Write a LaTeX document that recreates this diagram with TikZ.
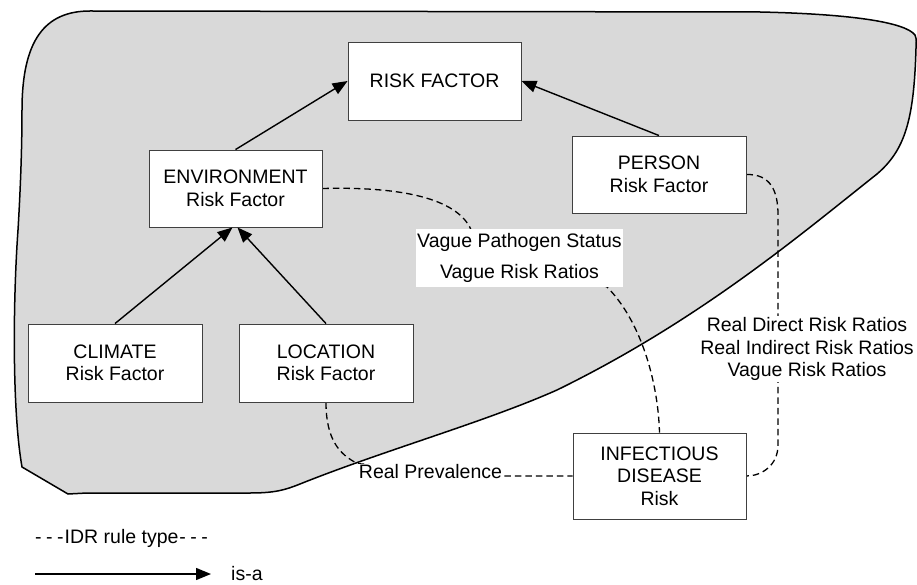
\documentclass[tikz,border=0pt]{standalone}
\usepackage{fontspec}
\setmainfont{Liberation Sans}
\usetikzlibrary{arrows.meta}
\pgfdeclarelayer{shade}
\pgfdeclarelayer{links}
\pgfsetlayers{shade,links,main}
\definecolor{blobgray}{RGB}{217,217,217}
\begin{document}
\begin{tikzpicture}[x=1pt,y=-1pt,
  every node/.style={font=\fontsize{19.5}{22.5}\selectfont},
  box/.style={draw=black!75, line width=0.9pt, fill=white, align=center, inner sep=0pt},
  isa/.style={line width=1.4pt, -{Triangle[length=15pt,width=12pt]}},
  idr/.style={line width=1.3pt, dash pattern=on 6.5pt off 4pt},
  tag/.style={fill=white, align=center, inner sep=1.5pt}]
\useasboundingbox (0,0) rectangle (917,585);

% risk factor hierarchy
\node[box, minimum width=173pt, minimum height=78pt] (rf)  at (434.5,81)  {RISK FACTOR};
\node[box, minimum width=173pt, minimum height=77pt] (env) at (235.5,188.5) {ENVIRONMENT\\Risk Factor};
\node[box, minimum width=174pt, minimum height=77pt] (per) at (659,174.5) {PERSON\\Risk Factor};
\node[box, minimum width=174pt, minimum height=78pt] (cli) at (115,363)   {CLIMATE\\Risk Factor};
\node[box, minimum width=174pt, minimum height=78pt] (loc) at (326,363)   {LOCATION\\Risk Factor};
\node[box, minimum width=173pt, minimum height=86pt] (inf) at (659.5,476) {INFECTIOUS\\DISEASE\\Risk};

% rule labels
\node[tag, inner sep=0pt, minimum width=207pt, minimum height=58pt,
      font=\fontsize{19.5}{31}\selectfont] (vague) at (519.5,258)
      {Vague Pathogen Status\\Vague Risk Ratios};
\node[tag] (ratios) at (807,349)
      {Real Direct Risk Ratios\\Real Indirect Risk Ratios\\Vague Risk Ratios};
\node[tag, inner sep=1pt] (prev) at (430.5,472) {Real Prevalence};

% shaded region
\begin{pgfonlayer}{shade}
\draw[line width=1.5pt, fill=blobgray]
  (22,110) .. controls (22,40) and (45,11) .. (90,11)
  -- (760,12) .. controls (850,14) and (905,22) .. (915,35)
  .. controls (917,40) and (916,43) .. (916,48)
  .. controls (914,120) and (905,150) .. (877,174)
  .. controls (800,235) and (700,320) .. (557,390)
  .. controls (485,422) and (385,450) .. (300,484)
  .. controls (285,490) and (275,493) .. (250,493)
  -- (87,493) -- (68,494) -- (22,467)
  .. controls (12,410) and (13,300) .. (18,230)
  .. controls (21,180) and (22,140) .. cycle;
\end{pgfonlayer}

% IDR rule links
\begin{pgfonlayer}{links}
\draw[idr] (env.east) .. controls (420,186) and (462,205) .. (472,232)
  -- (607,287) .. controls (640,320) and (658,380) .. (inf.north);
\draw[idr] (per.east) .. controls (770,174) and (778,190) .. (778,215)
  -- (778,445) .. controls (778,465) and (762,476) .. (inf.east);
\draw[idr] (loc.south) .. controls (326,440) and (340,455) .. (prev.north west)
  -- (prev.east |- inf.west) -- (inf.west);
\end{pgfonlayer}

% is-a links
\draw[isa] (env.north) -- (rf.west);
\draw[isa] (per.north) -- (rf.east);
\draw[isa] (cli.north) -- ([xshift=-3pt]env.south);
\draw[isa] (loc.north) -- ([xshift=2pt]env.south);

% legend
\node[anchor=west, inner sep=0pt] (legidr) at (35,538)
  {-\hspace{4.5pt}-\hspace{4.5pt}-\hspace{1pt}IDR rule type\hspace{1pt}-\hspace{4.5pt}-\hspace{4.5pt}-};
\coordinate (legA) at (35,574);
\coordinate (legB) at (211,574);
\node[anchor=west, inner sep=0pt] (legisa) at (231,574) {is-a};
\draw[isa] (legA) -- (legB);
\end{tikzpicture}
\end{document}
